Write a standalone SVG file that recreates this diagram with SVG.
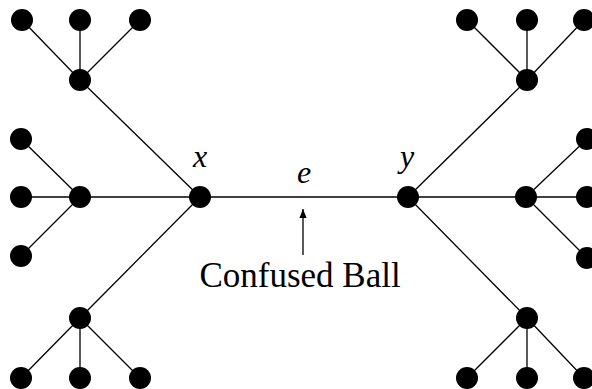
<svg xmlns="http://www.w3.org/2000/svg" width="592" height="389" viewBox="0 0 592 389">
<style>
.e{stroke:#000;stroke-width:1.3;fill:none}
.n{fill:#000}
</style>
<defs><marker id="ah" viewBox="0 0 10 10" refX="10" refY="5" markerWidth="9" markerHeight="9" markerUnits="userSpaceOnUse" orient="auto"><path d="M0,1 L10,5 L0,9 z" fill="#000"/></marker></defs>
<rect width="592" height="389" fill="#fff"/>
<g id="connectors">
<line class="e" x1="200" y1="197" x2="408" y2="197"/>
<line class="e" x1="200" y1="197" x2="80" y2="80"/>
<line class="e" x1="200" y1="197" x2="80" y2="197"/>
<line class="e" x1="200" y1="197" x2="80" y2="318"/>
<line class="e" x1="80" y1="80" x2="22" y2="20"/>
<line class="e" x1="80" y1="80" x2="80" y2="20"/>
<line class="e" x1="80" y1="80" x2="140" y2="20"/>
<line class="e" x1="80" y1="197" x2="21" y2="139"/>
<line class="e" x1="80" y1="197" x2="21" y2="197"/>
<line class="e" x1="80" y1="197" x2="21" y2="256"/>
<line class="e" x1="80" y1="318" x2="21" y2="378"/>
<line class="e" x1="80" y1="318" x2="80" y2="378"/>
<line class="e" x1="80" y1="318" x2="140" y2="378"/>
<line class="e" x1="408" y1="197" x2="527" y2="80"/>
<line class="e" x1="408" y1="197" x2="526" y2="197"/>
<line class="e" x1="408" y1="197" x2="527" y2="318"/>
<line class="e" x1="527" y1="80" x2="467" y2="20"/>
<line class="e" x1="527" y1="80" x2="527" y2="20"/>
<line class="e" x1="527" y1="80" x2="584" y2="20"/>
<line class="e" x1="526" y1="197" x2="587" y2="139"/>
<line class="e" x1="526" y1="197" x2="592" y2="197"/>
<line class="e" x1="526" y1="197" x2="587" y2="258"/>
<line class="e" x1="527" y1="318" x2="467" y2="378"/>
<line class="e" x1="527" y1="318" x2="527" y2="378"/>
<line class="e" x1="527" y1="318" x2="584" y2="378"/>
<line class="e" x1="303" y1="255" x2="303" y2="209" marker-end="url(#ah)"/>
</g>
<g id="x"><circle class="n" cx="200" cy="197" r="11"/></g>
<g id="y"><circle class="n" cx="408" cy="197" r="11"/></g>
<g id="lt"><circle class="n" cx="80" cy="80" r="11"/></g>
<g id="lm"><circle class="n" cx="80" cy="197" r="11"/></g>
<g id="lb"><circle class="n" cx="80" cy="318" r="11"/></g>
<g id="rt"><circle class="n" cx="527" cy="80" r="11"/></g>
<g id="rm"><circle class="n" cx="526" cy="197" r="11"/></g>
<g id="rb"><circle class="n" cx="527" cy="318" r="11"/></g>
<g id="leaves">
<circle class="n" cx="22" cy="20" r="11"/>
<circle class="n" cx="80" cy="20" r="11"/>
<circle class="n" cx="140" cy="20" r="11"/>
<circle class="n" cx="21" cy="139" r="11"/>
<circle class="n" cx="21" cy="197" r="11"/>
<circle class="n" cx="21" cy="256" r="11"/>
<circle class="n" cx="21" cy="378" r="11"/>
<circle class="n" cx="80" cy="378" r="11"/>
<circle class="n" cx="140" cy="378" r="11"/>
<circle class="n" cx="467" cy="20" r="11"/>
<circle class="n" cx="527" cy="20" r="11"/>
<circle class="n" cx="584" cy="20" r="11"/>
<circle class="n" cx="587" cy="139" r="11"/>
<circle class="n" cx="587" cy="197" r="11"/>
<circle class="n" cx="587" cy="258" r="11"/>
<circle class="n" cx="467" cy="378" r="11"/>
<circle class="n" cx="527" cy="378" r="11"/>
<circle class="n" cx="584" cy="378" r="11"/>
</g>
<g id="labels" font-family="'Liberation Serif', 'DejaVu Serif', serif" fill="#000">
<text x="200" y="167" text-anchor="middle" font-style="italic" font-size="32">x</text>
<text x="304" y="183" text-anchor="middle" font-style="italic" font-size="32">e</text>
<text x="407" y="167" text-anchor="middle" font-style="italic" font-size="32">y</text>
<text x="300" y="287" text-anchor="middle" font-size="35">Confused Ball</text>
</g>
</svg>
